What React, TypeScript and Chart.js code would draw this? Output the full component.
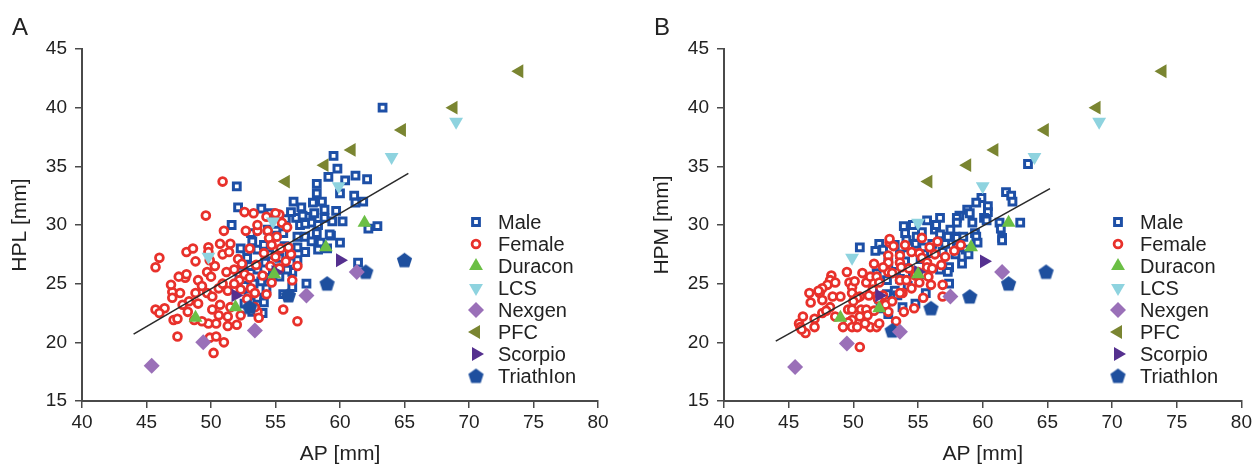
import React, { useEffect, useRef } from 'react';
import { Chart, registerables } from 'chart.js';
import { drawPoint } from 'chart.js/helpers';

Chart.register(...registerables);

type Pt = [number, number];

// ---------- Panel A (AP vs HPL) ----------
const maleA: Pt[] = [
  [63.3, 40.0], [59.5, 35.9], [59.8, 34.8], [59.1, 34.1], [60.4, 33.8], [61.2, 34.2], [62.1, 33.9], [58.2, 33.5], [58.2, 32.7], [60.0, 32.7],
  [56.4, 32.0], [61.1, 32.5], [61.2, 31.9], [61.8, 32.0], [52.0, 33.3], [52.1, 31.5], [53.9, 31.4], [51.6, 30.0], [57.9, 31.9], [58.0, 31.0],
  [58.8, 31.3], [58.8, 30.6], [57.4, 30.7], [56.6, 30.6], [59.4, 30.3], [62.9, 29.9], [62.2, 29.7], [56.9, 30.0], [57.8, 30.2], [55.6, 29.3],
  [55.0, 29.1], [56.7, 29.0], [59.3, 29.1], [58.2, 29.3], [57.1, 30.8], [58.3, 30.0], [57.3, 30.1], [59.2, 29.2], [60.0, 28.5], [57.3, 29.0],
  [57.3, 27.7], [56.7, 28.1], [56.7, 27.0], [61.4, 26.8], [56.3, 26.0], [57.4, 25.0], [54.3, 24.6],
  [52.3, 28.0], [52.8, 27.2], [53.2, 28.6], [53.6, 27.9], [54.1, 28.3], [54.5, 27.5], [53.0, 26.5], [53.6, 26.2], [54.2, 26.8], [54.8, 26.3],
  [55.3, 27.2], [55.7, 28.2], [56.1, 27.4], [55.9, 26.2], [55.3, 25.6], [54.6, 25.5], [53.9, 25.2], [53.3, 25.0], [52.6, 24.8], [52.2, 25.7],
  [52.9, 24.0], [53.6, 23.8], [54.1, 23.4], [52.6, 23.3], [53.2, 22.6], [54.0, 22.5], [52.4, 26.6], [53.1, 29.3], [54.4, 29.6], [55.8, 30.5],
  [56.2, 31.1], [57.0, 31.5], [58.6, 32.0], [59.7, 31.2], [60.2, 30.3], [58.5, 28.5], [57.8, 28.6], [55.0, 30.1], [54.6, 31.0], [56.3, 24.7],
  [55.6, 24.1], [58.3, 27.9], [59.0, 28.0],
];
const femaleA: Pt[] = [
  [50.9, 33.7], [52.6, 31.1], [49.6, 30.8], [46.0, 27.2], [45.7, 26.4], [48.1, 27.7], [49.8, 28.1], [49.8, 27.7], [50.9, 27.5], [51.4, 27.7],
  [48.0, 25.5], [48.1, 25.8], [49.0, 25.3], [49.7, 26.0], [47.0, 24.3], [47.6, 24.2], [47.0, 23.8], [45.7, 22.8], [46.4, 22.9], [47.1, 21.9],
  [47.4, 22.0], [47.4, 20.5], [48.2, 22.6], [48.8, 24.2], [49.3, 24.8], [49.7, 24.2], [50.0, 25.6], [50.1, 23.9], [50.1, 22.8], [49.8, 21.6],
  [49.9, 20.4], [50.4, 20.5], [50.2, 19.1], [50.6, 24.6], [50.7, 23.2], [50.6, 22.3], [51.3, 24.4], [51.5, 23.0], [51.3, 22.2], [51.3, 21.4],
  [52.0, 21.5], [51.2, 26.0], [51.8, 26.2], [52.2, 25.3], [52.6, 25.8], [53.0, 25.5], [53.1, 24.6], [53.4, 24.2], [54.0, 25.7], [54.7, 25.1],
  [53.6, 22.6], [53.7, 22.1], [55.6, 22.8], [56.7, 21.8], [52.7, 29.5], [53.6, 29.5], [54.4, 29.5], [54.5, 28.9], [53.0, 28.0], [54.1, 27.6],
  [55.0, 27.3], [53.6, 30.0], [55.3, 30.9], [55.5, 30.2], [55.9, 29.8], [55.1, 29.0], [56.2, 27.5], [55.8, 26.9], [56.7, 26.5], [56.0, 28.1],
  [54.7, 28.3], [55.4, 28.0], [55.3, 26.3], [52.1, 27.1], [51.5, 28.4], [51.0, 29.5], [50.3, 26.5], [48.8, 26.9], [47.5, 25.6], [46.9, 24.9],
  [48.3, 23.5], [46.0, 22.5], [49.0, 23.3], [49.3, 21.8], [51.0, 20.0], [52.3, 22.3], [52.8, 23.7], [53.4, 23.0], [52.3, 24.5], [54.3, 24.1],
  [48.6, 28.0], [53.3, 31.0], [54.3, 30.7], [55.0, 31.0], [49.9, 27.0], [50.7, 28.4], [52.4, 26.7], [51.8, 25.0], [53.5, 26.6], [54.6, 26.5],
  [50.4, 21.6], [48.7, 21.9], [47.8, 23.2], [50.9, 25.0], [56.3, 25.3],
];
const duraconA: Pt[] = [[48.8, 22.1], [51.9, 23.0], [54.9, 25.8], [58.9, 28.1], [61.9, 30.2]];
const lcsA: Pt[] = [[49.8, 27.3], [54.8, 30.3], [59.9, 33.3], [64.0, 35.8], [69.0, 38.8]];
const nexgenA: Pt[] = [[45.4, 18.0], [49.4, 20.0], [53.4, 21.0], [57.4, 24.0], [61.3, 26.0]];
const pfcA: Pt[] = [[55.8, 33.7], [58.8, 35.1], [60.9, 36.4], [64.8, 38.1], [68.8, 40.0], [73.9, 43.1]];
const scorpioA: Pt[] = [[51.9, 24.0], [55.0, 26.0], [60.0, 27.0]];
const triathlonA: Pt[] = [[53.0, 23.0], [56.0, 24.0], [59.0, 25.0], [62.0, 26.0], [65.0, 27.0]];
const fitA: Pt[] = [[44.0, 20.7], [65.3, 34.4]];

// ---------- Panel B (AP vs HPM) ----------
const maleB: Pt[] = [
  [63.5, 35.2], [61.8, 32.8], [62.2, 32.5], [62.3, 32.0], [59.9, 32.3], [59.5, 31.9], [60.4, 31.6], [60.4, 31.1], [58.8, 31.3], [59.0, 31.0],
  [58.2, 30.8], [58.0, 30.6], [60.1, 30.6], [60.3, 30.4], [59.2, 30.2], [58.0, 30.2], [56.7, 30.6], [56.3, 29.6], [61.3, 30.2], [61.4, 29.7],
  [62.9, 30.2], [54.0, 29.3], [54.9, 29.0], [57.3, 29.0], [57.9, 29.0], [59.4, 29.3], [61.5, 28.9], [50.5, 28.1], [51.7, 27.8], [52.0, 28.4],
  [52.3, 27.9], [54.1, 28.7], [54.8, 28.4], [55.4, 28.1], [54.3, 28.1], [56.7, 29.2], [58.0, 28.9], [58.5, 29.0], [59.5, 29.0], [61.5, 28.7],
  [57.1, 28.4], [58.0, 28.1], [58.7, 27.9], [58.9, 27.5], [57.9, 27.5], [56.9, 27.7], [53.6, 27.5], [54.0, 26.9], [55.2, 27.1], [55.7, 26.6],
  [57.4, 26.4], [56.7, 26.2], [57.3, 26.0], [56.0, 27.6], [55.5, 25.8], [54.6, 25.9], [53.3, 26.0], [52.6, 25.3], [53.2, 24.4], [52.6, 24.1],
  [53.4, 24.0], [52.7, 23.5], [52.1, 22.9], [52.0, 23.7], [51.8, 25.9], [52.7, 26.8], [53.6, 25.4], [54.2, 24.8], [55.6, 24.2], [54.8, 23.3],
  [53.8, 23.0], [52.7, 22.4], [56.1, 28.4], [55.3, 29.4], [57.5, 29.6], [56.4, 30.0], [55.7, 30.4], [54.6, 30.0], [53.9, 29.9], [53.2, 28.3],
  [59.6, 28.5], [58.4, 26.7], [57.4, 25.0],
];
const femaleB: Pt[] = [
  [52.8, 28.5], [52.8, 28.8], [48.3, 25.7], [48.2, 25.3], [48.0, 24.9], [47.6, 24.6], [47.4, 24.2], [47.3, 24.4], [46.6, 24.2], [47.6, 23.6],
  [48.4, 23.9], [48.2, 23.0], [47.6, 22.5], [47.0, 22.0], [46.1, 22.2], [45.8, 21.6], [45.9, 21.3], [46.3, 20.8], [47.0, 21.3], [49.7, 25.1],
  [49.9, 24.7], [49.9, 24.2], [50.5, 23.9], [50.3, 23.8], [51.0, 25.1], [51.3, 25.6], [51.8, 25.6], [52.0, 25.1], [51.5, 24.5], [49.6, 22.8],
  [49.9, 22.8], [50.6, 22.8], [51.0, 22.8], [51.1, 22.3], [50.5, 22.2], [49.9, 21.9], [49.6, 21.7], [49.2, 21.3], [49.9, 21.3], [50.3, 21.3],
  [51.3, 21.3], [51.8, 21.3], [52.0, 21.6], [50.5, 19.6], [52.7, 27.4], [53.6, 27.4], [53.6, 26.8], [53.7, 26.4], [54.5, 27.7], [55.1, 27.6],
  [55.3, 27.2], [55.9, 28.1], [55.7, 26.8], [55.7, 26.4], [56.1, 26.3], [56.8, 26.6], [52.7, 26.8], [52.7, 26.0], [53.0, 25.9], [53.6, 25.3],
  [54.1, 25.3], [55.1, 25.1], [56.0, 24.9], [56.9, 24.9], [53.8, 24.2], [53.6, 24.2], [55.4, 23.8], [54.7, 22.9], [53.9, 22.6], [52.3, 24.0],
  [52.5, 23.2], [51.9, 23.7], [53.0, 23.5], [54.5, 24.6], [55.0, 26.0], [54.3, 26.3], [56.3, 27.5], [57.1, 27.3], [54.0, 28.3], [53.1, 28.2],
  [51.6, 26.7], [52.3, 26.4], [50.7, 25.9], [49.5, 26.0], [48.6, 25.1], [47.9, 22.7], [48.6, 22.2], [50.9, 21.6], [52.7, 22.6], [53.3, 21.8],
  [51.6, 22.7], [50.0, 23.5], [49.0, 23.9], [46.7, 23.4], [46.0, 21.1], [51.2, 24.0], [50.1, 25.2], [54.8, 25.7], [55.8, 25.6], [57.8, 27.8],
  [58.3, 28.3], [56.5, 28.6], [55.3, 28.9], [56.9, 23.9],
];
const duraconB: Pt[] = [[49.0, 22.1], [52.0, 22.9], [55.0, 25.8], [59.1, 28.1], [62.0, 30.2]];
const lcsB: Pt[] = [[49.9, 27.2], [55.0, 30.2], [60.0, 33.3], [64.0, 35.8], [69.0, 38.8]];
const nexgenB: Pt[] = [[45.5, 17.9], [49.5, 19.9], [53.6, 20.9], [57.5, 23.9], [61.5, 26.0]];
const pfcB: Pt[] = [[55.8, 33.7], [58.8, 35.1], [60.9, 36.4], [64.8, 38.1], [68.8, 40.0], [73.9, 43.1]];
const scorpioB: Pt[] = [[52.0, 24.0], [55.0, 26.0], [60.1, 26.9]];
const triathlonB: Pt[] = [[53.0, 21.0], [56.0, 22.9], [59.0, 23.9], [62.0, 25.0], [64.9, 26.0]];
const fitB: Pt[] = [[44.0, 20.1], [65.2, 33.1]];

const seriesNames = ['Male', 'Female', 'Duracon', 'LCS', 'Nexgen', 'PFC', 'Scorpio', 'TriathIon'];
const xTicks = [40, 45, 50, 55, 60, 65, 70, 75, 80];
const yTicks = [15, 20, 25, 30, 35, 40, 45];

const FONT = "'Liberation Sans', Arial, Helvetica, sans-serif";
const TEXT = '#222222';
const AXIS = '#4a4a4a';

function makePentagon(color: string): HTMLCanvasElement {
  const c = document.createElement('canvas');
  c.width = 17;
  c.height = 17;
  const ctx = c.getContext('2d')!;
  const r = 8;
  const cx = 8.5;
  const cy = 9;
  ctx.beginPath();
  for (let i = 0; i < 5; i++) {
    const a = -Math.PI / 2 + (i * 2 * Math.PI) / 5;
    const px = cx + r * Math.cos(a);
    const py = cy + r * Math.sin(a);
    if (i === 0) ctx.moveTo(px, py);
    else ctx.lineTo(px, py);
  }
  ctx.closePath();
  ctx.fillStyle = color;
  ctx.fill();
  return c;
}

type Style = {
  color: string;
  fill: string;
  pointStyle: any;
  radius: number;
  rotation: number;
  borderWidth: number;
};

function makeStyles(): Style[] {
  return [
    { color: '#1d4fa6', fill: '#ffffff', pointStyle: 'rect', radius: 4.8, rotation: 0, borderWidth: 3 },
    { color: '#e8312b', fill: '#ffffff', pointStyle: 'circle', radius: 3.9, rotation: 0, borderWidth: 2.8 },
    { color: '#6bbf45', fill: '#6bbf45', pointStyle: 'triangle', radius: 8, rotation: 0, borderWidth: 0 },
    { color: '#8ed3df', fill: '#8ed3df', pointStyle: 'triangle', radius: 8, rotation: 180, borderWidth: 0 },
    { color: '#9a70b8', fill: '#9a70b8', pointStyle: 'rectRot', radius: 8, rotation: 0, borderWidth: 0 },
    { color: '#7a8531', fill: '#7a8531', pointStyle: 'triangle', radius: 8, rotation: 270, borderWidth: 0 },
    { color: '#55308f', fill: '#55308f', pointStyle: 'triangle', radius: 8, rotation: 90, borderWidth: 0 },
    { color: '#1e4f9e', fill: '#1e4f9e', pointStyle: makePentagon('#1e4f9e'), radius: 8, rotation: 0, borderWidth: 0 },
  ];
}

function panelPlugin(letter: string, styles: Style[]) {
  return {
    id: 'panelDecor',
    afterDraw(chart: any) {
      const { ctx, chartArea } = chart;
      ctx.save();
      ctx.fillStyle = TEXT;
      ctx.font = `24px ${FONT}`;
      ctx.textAlign = 'left';
      ctx.textBaseline = 'alphabetic';
      ctx.fillText(letter, 12, 35);
      styles.forEach((s, i) => {
        const y = chartArea.top + 173 + i * 22;
        const x = chartArea.left + 394;
        ctx.fillStyle = s.fill;
        ctx.strokeStyle = s.color;
        ctx.lineWidth = s.borderWidth;
        drawPoint(ctx, { pointStyle: s.pointStyle, rotation: s.rotation, radius: s.radius, borderWidth: s.borderWidth } as any, x, y);
        ctx.fillStyle = TEXT;
        ctx.font = `20px ${FONT}`;
        ctx.textBaseline = 'middle';
        ctx.fillText(seriesNames[i], chartArea.left + 416, y + 1);
      });
      ctx.restore();
    },
  };
}

function toXY(pts: Pt[]) {
  return pts.map(([x, y]) => ({ x, y }));
}

function buildConfig(
  letter: string,
  yTitle: string,
  series: Pt[][],
  fit: Pt[],
  padRight: number
): any {
  const styles = makeStyles();
  const orders = [2, 1, 0, 0, 0, 0, 0, 0];
  const datasets: any[] = series.map((pts, i) => ({
    label: seriesNames[i],
    data: toXY(pts),
    order: orders[i],
    pointStyle: styles[i].pointStyle,
    pointRadius: styles[i].radius,
    pointRotation: styles[i].rotation,
    pointBackgroundColor: styles[i].fill,
    pointBorderColor: styles[i].color,
    pointBorderWidth: styles[i].borderWidth,
    backgroundColor: styles[i].fill,
    borderColor: styles[i].color,
    borderWidth: styles[i].borderWidth,
    showLine: false,
  }));
  datasets.push({
    label: 'fit',
    data: toXY(fit),
    order: -1,
    showLine: true,
    pointRadius: 0,
    borderColor: '#2a2a2a',
    borderWidth: 1.6,
    backgroundColor: 'transparent',
  });
  const tickFont = { family: FONT, size: 19 };
  const titleFont = { family: FONT, size: 21 };
  return {
    type: 'scatter',
    data: { datasets },
    options: {
      responsive: false,
      animation: false,
      devicePixelRatio: 1,
      events: [],
      layout: { padding: { top: 49, right: padRight, bottom: 0, left: 0 } },
      plugins: { legend: { display: false }, tooltip: { enabled: false } },
      scales: {
        x: {
          type: 'linear',
          min: 40,
          max: 80,
          afterFit: (s: any) => { s.height = 67; },
          afterBuildTicks: (s: any) => { s.ticks = xTicks.map((v) => ({ value: v })); },
          ticks: { font: tickFont, color: TEXT, padding: 3, maxRotation: 0 },
          grid: { display: true, drawOnChartArea: false, drawTicks: true, tickLength: 7, color: AXIS, lineWidth: 1.5 },
          border: { display: true, color: AXIS, width: 2 },
          title: { display: true, text: 'AP [mm]', font: titleFont, color: TEXT, padding: { top: 0, bottom: 1 } },
        },
        y: {
          type: 'linear',
          min: 15,
          max: 45,
          afterFit: (s: any) => { s.width = 82; },
          afterBuildTicks: (s: any) => { s.ticks = yTicks.map((v) => ({ value: v })); },
          ticks: { font: tickFont, color: TEXT, padding: 8 },
          grid: { display: true, drawOnChartArea: false, drawTicks: true, tickLength: 7, color: AXIS, lineWidth: 1.5 },
          border: { display: true, color: AXIS, width: 2 },
          title: { display: true, text: yTitle, font: titleFont, color: TEXT, padding: { top: 8, bottom: 0 } },
        },
      },
    },
    plugins: [panelPlugin(letter, styles)],
  };
}

export default function App() {
  const refA = useRef<HTMLCanvasElement>(null);
  const refB = useRef<HTMLCanvasElement>(null);

  useEffect(() => {
    const a = new Chart(
      refA.current!,
      buildConfig('A', 'HPL [mm]', [maleA, femaleA, duraconA, lcsA, nexgenA, pfcA, scorpioA, triathlonA], fitA, 44)
    );
    const b = new Chart(
      refB.current!,
      buildConfig('B', 'HPM [mm]', [maleB, femaleB, duraconB, lcsB, nexgenB, pfcB, scorpioB, triathlonB], fitB, 13)
    );
    return () => {
      a.destroy();
      b.destroy();
    };
  }, []);

  return (
    <div style={{ position: 'absolute', left: 0, top: 0, width: 1255, height: 468, background: '#ffffff', overflow: 'hidden' }}>
      <div style={{ position: 'absolute', left: 0, top: 0, width: 642, height: 468 }}>
        <canvas ref={refA} width={642} height={468} />
      </div>
      <div style={{ position: 'absolute', left: 642, top: 0, width: 613, height: 468 }}>
        <canvas ref={refB} width={613} height={468} />
      </div>
    </div>
  );
}
